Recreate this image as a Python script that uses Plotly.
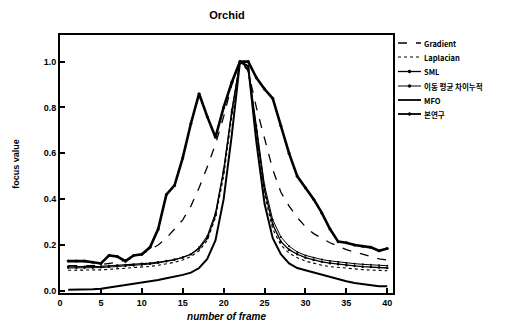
import plotly.graph_objects as go

frames = list(range(1, 41))

gradient = [0.11, 0.11, 0.11, 0.11, 0.115, 0.12, 0.125, 0.135, 0.145, 0.16,
            0.18, 0.20, 0.23, 0.27, 0.31, 0.37, 0.45, 0.54, 0.64, 0.76,
            0.90, 1.0, 0.96, 0.80, 0.66, 0.53, 0.43, 0.37, 0.32, 0.28,
            0.25, 0.23, 0.21, 0.195, 0.18, 0.17, 0.16, 0.15, 0.14, 0.135]

laplacian = [0.09, 0.09, 0.09, 0.09, 0.092, 0.094, 0.096, 0.098, 0.10, 0.103,
             0.107, 0.112, 0.118, 0.125, 0.135, 0.15, 0.175, 0.22, 0.32, 0.50,
             0.76, 1.0, 0.96, 0.68, 0.42, 0.27, 0.20, 0.165, 0.145, 0.13,
             0.12, 0.112, 0.106, 0.102, 0.098, 0.095, 0.093, 0.091, 0.089, 0.088]

sml = [0.105, 0.105, 0.105, 0.105, 0.107, 0.109, 0.111, 0.113, 0.115, 0.118,
       0.121, 0.125, 0.13, 0.137, 0.146, 0.16, 0.185, 0.23, 0.33, 0.52,
       0.78, 1.0, 0.97, 0.70, 0.44, 0.29, 0.215, 0.18, 0.16, 0.145,
       0.135, 0.127, 0.121, 0.116, 0.112, 0.109, 0.106, 0.104, 0.102, 0.10]

moving_avg = [0.10, 0.10, 0.10, 0.10, 0.102, 0.104, 0.106, 0.108, 0.11, 0.113,
              0.117, 0.122, 0.128, 0.136, 0.146, 0.16, 0.19, 0.24, 0.34, 0.53,
              0.79, 1.0, 0.98, 0.72, 0.46, 0.31, 0.235, 0.195, 0.17, 0.155,
              0.145, 0.137, 0.131, 0.126, 0.122, 0.119, 0.116, 0.114, 0.112, 0.11]

mfo = [0.005, 0.005, 0.005, 0.007, 0.01, 0.015, 0.02, 0.025, 0.03, 0.035,
       0.04, 0.048, 0.055, 0.062, 0.07, 0.08, 0.10, 0.14, 0.22, 0.40,
       0.68, 1.0, 0.98, 0.65, 0.38, 0.23, 0.16, 0.12, 0.10, 0.09,
       0.08, 0.07, 0.06, 0.05, 0.042, 0.035, 0.03, 0.025, 0.02, 0.02]

proposed = [0.13, 0.13, 0.13, 0.125, 0.12, 0.155, 0.15, 0.13, 0.155, 0.16,
            0.19, 0.27, 0.42, 0.46, 0.58, 0.73, 0.86, 0.76, 0.67, 0.80,
            0.91, 1.0, 1.0, 0.93, 0.88, 0.84, 0.72, 0.60, 0.50, 0.45,
            0.40, 0.34, 0.27, 0.215, 0.21, 0.20, 0.195, 0.19, 0.175, 0.185]

names = ["Gradient", "Laplacian", "SML", "이동 평균 차이누적", "MFO", "본연구"]
x_ticks = [0, 5, 10, 15, 20, 25, 30, 35, 40]
y_ticks = [0.0, 0.2, 0.4, 0.6, 0.8, 1.0]

series = [gradient, laplacian, sml, moving_avg, mfo, proposed]
line_styles = [
    dict(color="black", width=1.3, dash="dash"),
    dict(color="black", width=1.1, dash="dot"),
    dict(color="black", width=1.3),
    dict(color="black", width=1.0),
    dict(color="black", width=2.0),
    dict(color="black", width=2.6),
]
marker_sizes = [0, 0, 2.5, 2, 0, 3]

# page body has an 8px margin; lay out in page pixels and offset
OFF = 8
W, H = 519 - OFF, 329 - OFF
L, R, T, B = 60 - OFF, 126, 35 - OFF, 36
pw, ph = W - L - R, H - T - B

fig = go.Figure()
for name, vals, ls, ms in zip(names, series, line_styles, marker_sizes):
    mode = "lines+markers" if ms else "lines"
    fig.add_trace(go.Scatter(x=frames, y=vals, name=name, mode=mode, line=ls,
                             marker=dict(size=ms, color="black"), showlegend=False))

# manual compact legend (paper coordinates, given in page pixels)
legend_rows_px = [43, 57, 71.5, 86, 100, 114]
sx0, sx1, tx = 398, 421, 422
legend_font = dict(family="Noto Sans CJK KR, Liberation Sans, sans-serif", size=7.5, color="black", weight="bold")


def px_x(p):
    return (p - OFF - L) / pw


def px_y(p):
    return (H - B - (p - OFF)) / ph


for name, ls, ms, ypx in zip(names, line_styles, marker_sizes, legend_rows_px):
    yp = px_y(ypx)
    fig.add_shape(type="line", xref="paper", yref="paper",
                  x0=px_x(sx0), x1=px_x(sx1), y0=yp, y1=yp,
                  line=dict(color="black", width=min(ls["width"], 1.8), dash=ls.get("dash", "solid")))
    if ms:
        cx = (sx0 + sx1) / 2
        fig.add_shape(type="circle", xref="paper", yref="paper",
                      x0=px_x(cx - 1.3), x1=px_x(cx + 1.3),
                      y0=yp - 1.3 / ph, y1=yp + 1.3 / ph,
                      line=dict(color="black", width=1), fillcolor="black")
    fig.add_annotation(xref="paper", yref="paper", x=px_x(tx), y=yp,
                       xanchor="left", yanchor="middle", showarrow=False,
                       text=name, font=legend_font)

bold = dict(family="Liberation Sans, Arial, sans-serif", size=9, color="black", weight="bold")

fig.update_layout(
    width=W, height=H,
    margin=dict(l=L, r=R, t=T, b=B),
    paper_bgcolor="white", plot_bgcolor="white",
    title=dict(text="Orchid", x=(227 - OFF) / W, xanchor="center", y=1 - (15 - OFF) / H, yanchor="middle",
               font=dict(family="Liberation Sans, Arial, sans-serif", size=11, color="black", weight="bold")),
    showlegend=False,
    xaxis=dict(range=[0, 40.7], tickvals=x_ticks, ticktext=[str(v) for v in x_ticks],
               ticks="inside", ticklen=5, tickwidth=1.5, tickcolor="black",
               showline=True, linecolor="black", linewidth=2, mirror=True,
               showgrid=False, zeroline=False, tickfont=bold, automargin=False,
               title=dict(text="<i>number of frame</i>", standoff=6,
                          font=dict(family="Liberation Sans, Arial, sans-serif", size=10, color="black", weight="bold"))),
    yaxis=dict(range=[-0.009, 1.116], tickvals=y_ticks, ticktext=[f"{v:.1f}" for v in y_ticks],
               ticks="inside", ticklen=5, tickwidth=1.5, tickcolor="black",
               showline=True, linecolor="black", linewidth=2, mirror=True,
               showgrid=False, zeroline=False, tickfont=bold, automargin=False,
               title=dict(text="focus value", standoff=23,
                          font=dict(family="Liberation Sans, Arial, sans-serif", size=9, color="black", weight="bold"))),
)

fig.write_html("out.html")
